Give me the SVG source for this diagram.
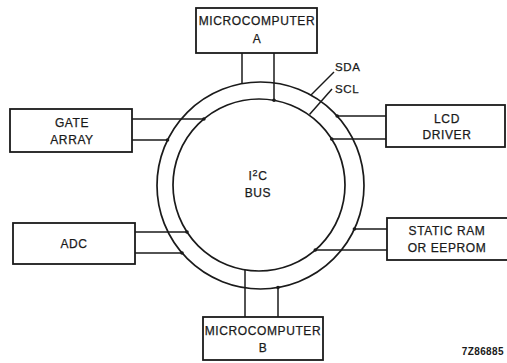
<svg xmlns="http://www.w3.org/2000/svg" width="507" height="363" viewBox="0 0 507 363">
<style>
.box{fill:#fff;stroke:#1a1a1a;stroke-width:1.8}
.ln{fill:none;stroke:#1a1a1a;stroke-width:1.5}
.ring{fill:none;stroke:#1a1a1a;stroke-width:1.7}
.dot{fill:#1a1a1a}
text{font-family:"Liberation Sans",Arial,sans-serif;font-size:12px;fill:#1a1a1a;text-anchor:middle;letter-spacing:0.6px;stroke:#1a1a1a;stroke-width:0.25}
.lbl{font-size:11.5px;text-anchor:start}
.code{font-size:10px;text-anchor:end;font-weight:bold;letter-spacing:0.4px;stroke-width:0}
</style>
<rect width="507" height="363" fill="#fff"/>
<g id="bus">
<circle class="ring" cx="260.5" cy="185.5" r="103.5"/>
<circle class="ring" cx="259" cy="185" r="86"/>
<text x="258" y="180">I<tspan dy="-4" font-size="9">2</tspan><tspan dy="4">C</tspan></text>
<text x="258" y="197">BUS</text>
</g>
<g id="connectors">
<line class="ln" x1="242" y1="53" x2="242" y2="83.7"/>
<line class="ln" x1="274" y1="53" x2="274" y2="100.3"/>
<line class="ln" x1="132" y1="119" x2="203.9" y2="119"/>
<line class="ln" x1="132" y1="140" x2="167.5" y2="140"/>
<line class="ln" x1="386" y1="116" x2="337.2" y2="116"/>
<line class="ln" x1="386" y1="139" x2="331.7" y2="139"/>
<line class="ln" x1="135" y1="232" x2="187" y2="232"/>
<line class="ln" x1="135" y1="253" x2="182" y2="253"/>
<line class="ln" x1="387" y1="229" x2="354.4" y2="229"/>
<line class="ln" x1="387" y1="250" x2="315.3" y2="250"/>
<line class="ln" x1="245" y1="317" x2="245" y2="269.9"/>
<line class="ln" x1="278" y1="317" x2="278" y2="287.5"/>
<circle class="dot" cx="274" cy="100.3" r="1.8"/>
<circle class="dot" cx="203.9" cy="119" r="1.8"/>
<circle class="dot" cx="167.5" cy="140" r="1.8"/>
<circle class="dot" cx="337.2" cy="116" r="1.8"/>
<circle class="dot" cx="331.7" cy="139" r="1.8"/>
<circle class="dot" cx="187" cy="232" r="1.8"/>
<circle class="dot" cx="182" cy="253" r="1.8"/>
<circle class="dot" cx="354.4" cy="229" r="1.8"/>
<circle class="dot" cx="315.3" cy="250" r="1.8"/>
<circle class="dot" cx="278" cy="287.5" r="1.8"/>
<line class="ln" x1="334" y1="72" x2="311" y2="95"/>
<line class="ln" x1="332" y1="89" x2="309.5" y2="114.5"/>
</g>
<g id="sda-scl">
<text class="lbl" x="335" y="71">SDA</text>
<text class="lbl" x="335" y="93">SCL</text>
</g>
<g id="microcomputer-a">
<rect class="box" x="196" y="8" width="121" height="45"/>
<text x="257" y="25">MICROCOMPUTER</text>
<text x="257" y="43">A</text>
</g>
<g id="gate-array">
<rect class="box" x="10" y="109" width="122" height="43"/>
<text x="72" y="127">GATE</text>
<text x="72" y="144">ARRAY</text>
</g>
<g id="lcd-driver">
<rect class="box" x="386" y="105" width="119" height="42"/>
<text x="447" y="123">LCD</text>
<text x="447" y="139">DRIVER</text>
</g>
<g id="adc">
<rect class="box" x="13" y="223" width="122" height="41"/>
<text x="74" y="248">ADC</text>
</g>
<g id="static-ram">
<rect class="box" x="387" y="218" width="122" height="42"/>
<text x="447" y="235">STATIC RAM</text>
<text x="447" y="252">OR EEPROM</text>
</g>
<g id="microcomputer-b">
<rect class="box" x="203" y="317" width="120" height="43"/>
<text x="263" y="335">MICROCOMPUTER</text>
<text x="263" y="352">B</text>
</g>
<text class="code" x="504" y="355">7Z86885</text>
</svg>
